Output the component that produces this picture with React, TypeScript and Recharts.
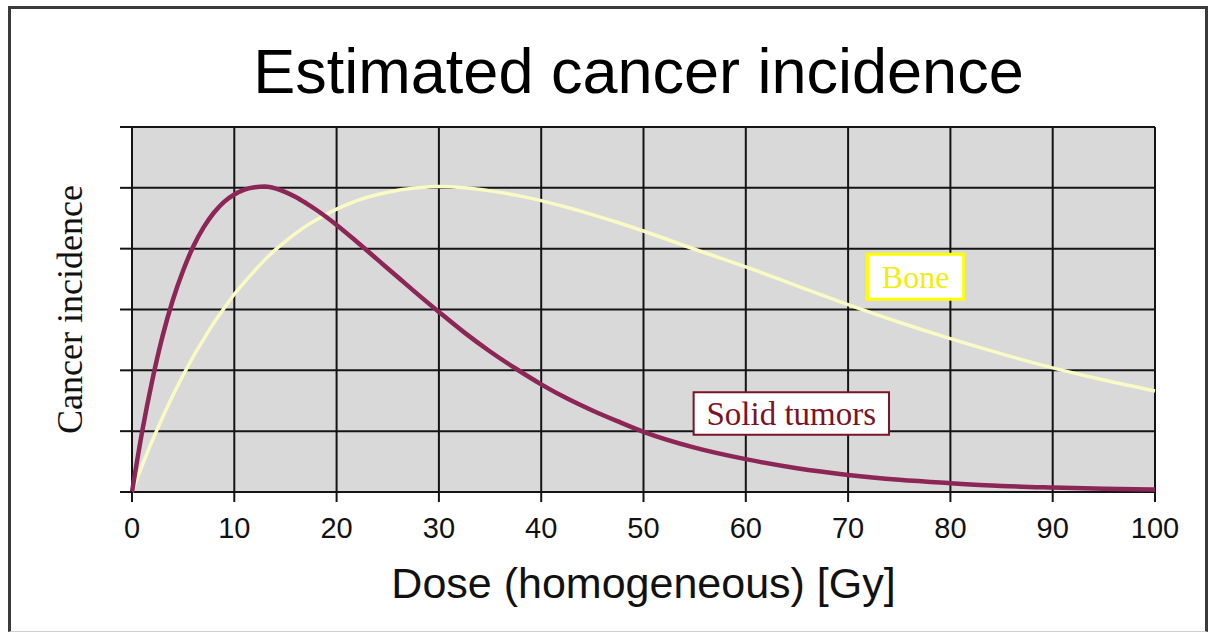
import {
  CartesianGrid,
  Label,
  Line,
  LineChart,
  ReferenceArea,
  XAxis,
  YAxis,
} from 'recharts'

// dose in Gy (grid units, 0..6)
const doses = [
  0, 1, 2, 3, 4, 5, 6, 7, 8, 9, 10, 11, 12, 13, 14, 15, 16, 17, 18, 20, 22, 24,
  26, 28, 30, 32.5, 35, 37.5, 40, 42.5, 45, 47.5, 50, 55, 60, 65, 70, 75, 80,
  85, 90, 95, 100,
]
const solidTumors = [
  0, 1.0, 1.85, 2.57, 3.16, 3.64, 4.04, 4.35, 4.59, 4.77, 4.89, 4.97, 5.01,
  5.02, 4.99, 4.93, 4.85, 4.75, 4.64, 4.39, 4.11, 3.82, 3.53, 3.24, 2.96, 2.62,
  2.31, 2.03, 1.77, 1.54, 1.34, 1.16, 0.99, 0.73, 0.54, 0.39, 0.28, 0.2, 0.145,
  0.1, 0.073, 0.052, 0.04,
]
const bone = [
  0, 0.44, 0.85, 1.23, 1.59, 1.92, 2.23, 2.51, 2.78, 3.02, 3.25, 3.45, 3.64,
  3.82, 3.98, 4.12, 4.25, 4.37, 4.47, 4.65, 4.79, 4.89, 4.96, 5.0, 5.02, 5.0,
  4.95, 4.88, 4.79, 4.68, 4.56, 4.43, 4.29, 3.99, 3.7, 3.39, 3.08, 2.79, 2.52,
  2.27, 2.04, 1.84, 1.66,
]
const xTicks = [0, 10, 20, 30, 40, 50, 60, 70, 80, 90, 100]
const yTicks = [0, 1, 2, 3, 4, 5, 6]

const rows = doses.map((dose, i) => ({
  dose,
  solid: solidTumors[i],
  bone: bone[i],
}))

const SANS = '"Liberation Sans", Arial, sans-serif'
const SERIF = '"Liberation Serif", "Times New Roman", serif'
const GRID = '#141414'

function YTitle(props: any) {
  const { viewBox } = props
  const cx = viewBox.x - 2
  const cy = viewBox.y + viewBox.height / 2
  return (
    <text
      x={cx}
      y={cy}
      transform={`rotate(-90 ${cx} ${cy})`}
      textAnchor="middle"
      dominantBaseline="central"
      fontFamily={SERIF}
      fontSize={36}
      fill="#111"
    >
      Cancer incidence
    </text>
  )
}

export default function App() {
  return (
    <div
      style={{
        position: 'absolute',
        left: 0,
        top: 0,
        width: 1210,
        height: 633,
        background: '#fff',
        overflow: 'hidden',
      }}
    >
      <div
        style={{
          position: 'absolute',
          left: 8,
          top: 6,
          width: 1200,
          height: 626,
          border: '3px solid #3a3a3a',
          borderBottom: '1px solid #cfcfcf',
          boxSizing: 'border-box',
        }}
      />
      <div
        style={{
          position: 'absolute',
          left: 0,
          top: 40,
          width: 1277,
          textAlign: 'center',
          fontFamily: SANS,
          fontSize: 63,
          lineHeight: '63px',
          color: '#000',
        }}
      >
        Estimated cancer incidence
      </div>
      <LineChart
        width={1210}
        height={633}
        data={rows}
        margin={{ top: 127, right: 55, bottom: 81, left: 72 }}
        style={{ position: 'absolute', left: 0, top: 0 }}
      >
        <CartesianGrid
          stroke={GRID}
          strokeWidth={2}
          fill="#d9d9d9"
          fillOpacity={1}
        />
        <XAxis
          dataKey="dose"
          type="number"
          domain={[0, 100]}
          ticks={xTicks}
          height={60}
          axisLine={false}
          tickSize={10}
          tickMargin={15}
          tickLine={{ stroke: GRID, strokeWidth: 2 }}
          tick={{ fill: '#111', fontFamily: SANS, fontSize: 29 }}
        >
          <Label
            value="Dose (homogeneous) [Gy]"
            position="bottom"
            offset={15}
            fill="#111"
            fontFamily={SANS}
            fontSize={43}
          />
        </XAxis>
        <YAxis
          type="number"
          domain={[0, 6]}
          ticks={yTicks}
          width={60}
          axisLine={false}
          tickFormatter={() => ''}
          tickSize={12}
          tickLine={{ stroke: GRID, strokeWidth: 2 }}
          label={{ content: YTitle }}
        />
        <ReferenceArea
          x1={71.9}
          x2={81.3}
          y1={3.17}
          y2={3.91}
          fill="#fff"
          fillOpacity={1}
          stroke="#ffff00"
          strokeWidth={3}
        >
          <Label
            value="Bone"
            position="center"
            fill="#eeee10"
            fontFamily={SERIF}
            fontSize={32}
          />
        </ReferenceArea>
        <ReferenceArea
          x1={54.9}
          x2={74.0}
          y1={0.94}
          y2={1.64}
          fill="#fff"
          fillOpacity={1}
          stroke="#7a1426"
          strokeWidth={2}
        >
          <Label
            value="Solid tumors"
            position="center"
            fill="#7a1426"
            fontFamily={SERIF}
            fontSize={33}
          />
        </ReferenceArea>
        <Line
          dataKey="bone"
          type="monotone"
          stroke="#fafac4"
          strokeWidth={3.5}
          dot={false}
          isAnimationActive={false}
        />
        <Line
          dataKey="solid"
          type="monotone"
          stroke="#8c2656"
          strokeWidth={4.5}
          dot={false}
          isAnimationActive={false}
        />
      </LineChart>
    </div>
  )
}
